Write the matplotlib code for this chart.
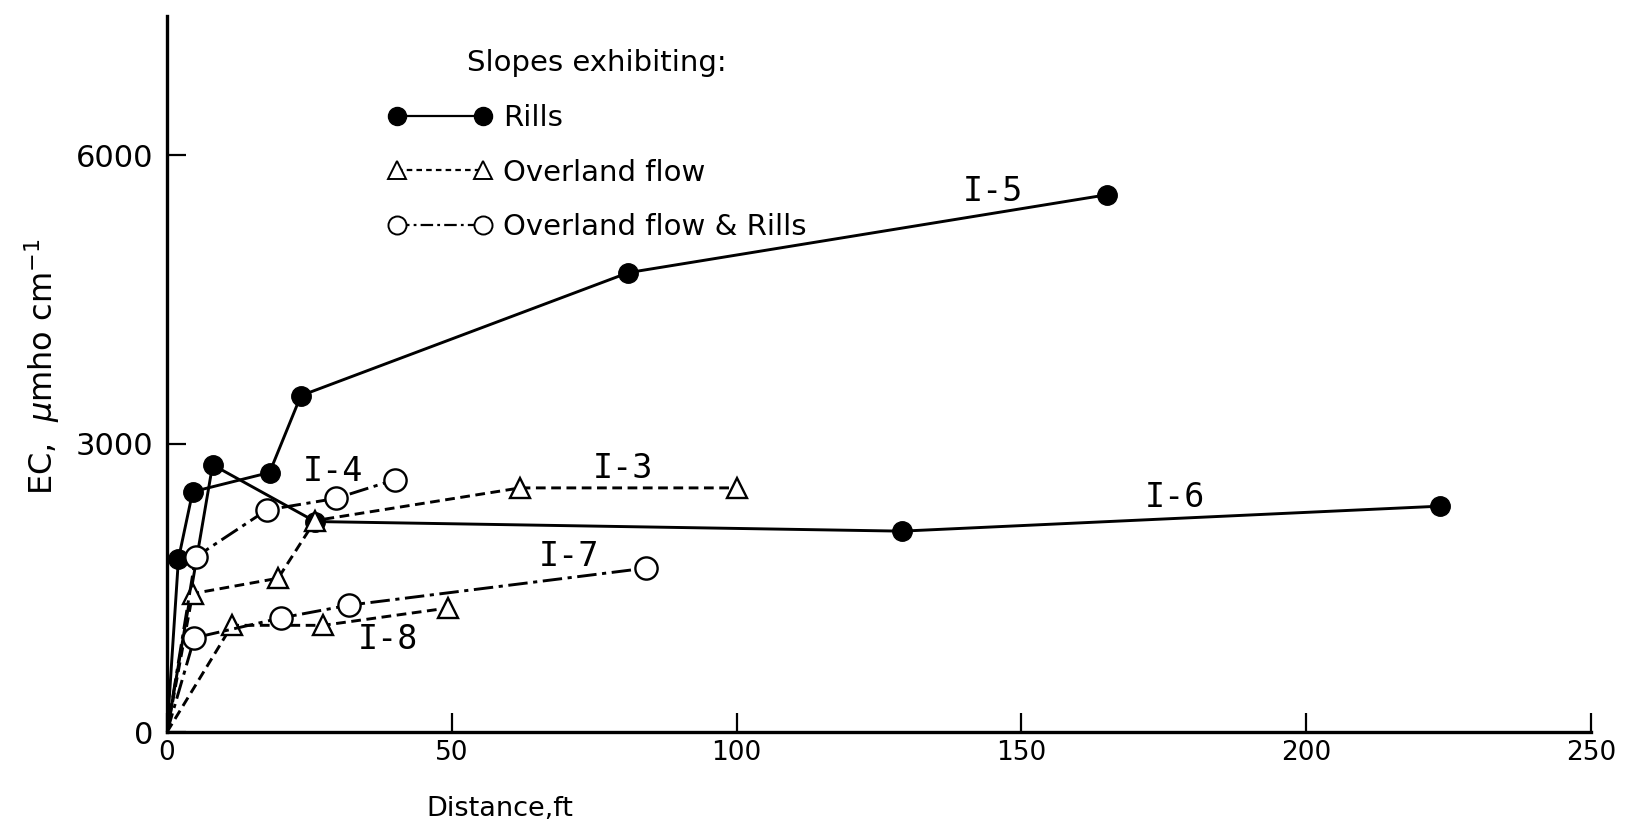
import matplotlib
matplotlib.use("Agg")
import matplotlib.pyplot as plt
from matplotlib.lines import Line2D

plt.rcParams['lines.scale_dashes'] = False
plt.rcParams['font.family'] = ['DejaVu Sans']

# EC of runoff vs distance down the slope (all runs start at the origin)
i5_x = [0, 2, 4.5, 18, 23.5, 81, 165]
i5_y = [0, 1800, 2500, 2700, 3500, 4780, 5590]
i6_x = [0, 8, 26, 129, 223.5]
i6_y = [0, 2780, 2190, 2090, 2350]

i3_x = [0, 4.5, 19.5, 26, 62, 100]
i3_y = [0, 1440, 1600, 2200, 2540, 2540]
i8_x = [0, 11.4, 27.4, 49.3]
i8_y = [0, 1110, 1110, 1290]

i4_x = [0, 5, 17.5, 29.6, 40]
i4_y = [0, 1820, 2310, 2430, 2625]
i7_x = [0, 4.8, 20, 32, 84.1]
i7_y = [0, 980, 1187, 1320, 1705]

slope_labels = ["I-5", "I-6", "I-3", "I-4", "I-7", "I-8"]
label_x = [145, 177, 80, 29.2, 70.6, 38.7]
label_y = [5620, 2440, 2740, 2710, 1830, 960]

dash = (7, 4)
dashdot = (14, 4, 3, 4)
lw = 2.1
skip0 = slice(1, None)  # no marker at the origin

fig = plt.figure(figsize=(16.25, 8.26), dpi=100)
ax = fig.add_axes([0.1028, 0.1138, 0.8763, 0.8668])

rills = dict(color='black', lw=lw, marker='o', ms=14, mfc='black', mec='black',
             markevery=skip0)
over = dict(color='black', lw=lw, marker='^', ms=15, mfc='white', mec='black', mew=1.7,
            dashes=dash, markevery=skip0)
both = dict(color='black', lw=lw, marker='o', ms=16, mfc='white', mec='black', mew=1.7,
            dashes=dashdot, markevery=skip0)

ax.plot(i5_x, i5_y, **rills)
ax.plot(i6_x, i6_y, **rills)
ax.plot(i3_x, i3_y, **over)
ax.plot(i8_x, i8_y, **over)
ax.plot(i7_x, i7_y, **both)
ax.plot(i4_x, i4_y, **both)

for name, lx, ly in zip(slope_labels, label_x, label_y):
    ax.text(lx, ly, name, family='DejaVu Sans Mono', fontsize=24,
            ha='center', va='center')

handles = [
    Line2D([], [], color='black', lw=1.6, marker='o', ms=13, mfc='black'),
    Line2D([], [], color='black', lw=1.6, marker='^', ms=13, mfc='white', mew=1.4,
           dashes=(4, 3)),
    Line2D([], [], color='black', lw=1.6, marker='o', ms=13, mfc='white', mew=1.4,
           dashes=(9, 3, 2, 3)),
]
leg = ax.legend(handles, ["Rills", "Overland flow", "Overland flow & Rills"],
                title="Slopes exhibiting:", loc='upper left',
                bbox_to_anchor=(0.155, 0.954), frameon=False, fontsize=21,
                title_fontsize=21, numpoints=2, handlelength=3.55,
                handletextpad=0.4, labelspacing=0.92, borderaxespad=0,
                borderpad=0)

ax.set_xlim(0, 250)
ax.set_ylim(0, 7450)
ax.set_xticks([0, 50, 100, 150, 200, 250])
ax.set_yticks([0, 3000, 6000])
ax.tick_params(direction='in', length=14, width=1.6)
ax.tick_params(axis='x', pad=6, labelsize=19)
ax.tick_params(axis='y', pad=10, labelsize=22)

for side in ['top', 'right']:
    ax.spines[side].set_visible(False)
for side in ['left', 'bottom']:
    ax.spines[side].set_linewidth(2.4)

ax.set_xlabel("Distance,ft", fontsize=19.5)
ax.xaxis.set_label_coords(0.234, -0.09)
ax.set_ylabel("EC,  $\\mu$mho cm$^{-1}$", fontsize=23)
ax.yaxis.set_label_coords(-0.074, 0.51)

fig.savefig("out.png", dpi=100)
